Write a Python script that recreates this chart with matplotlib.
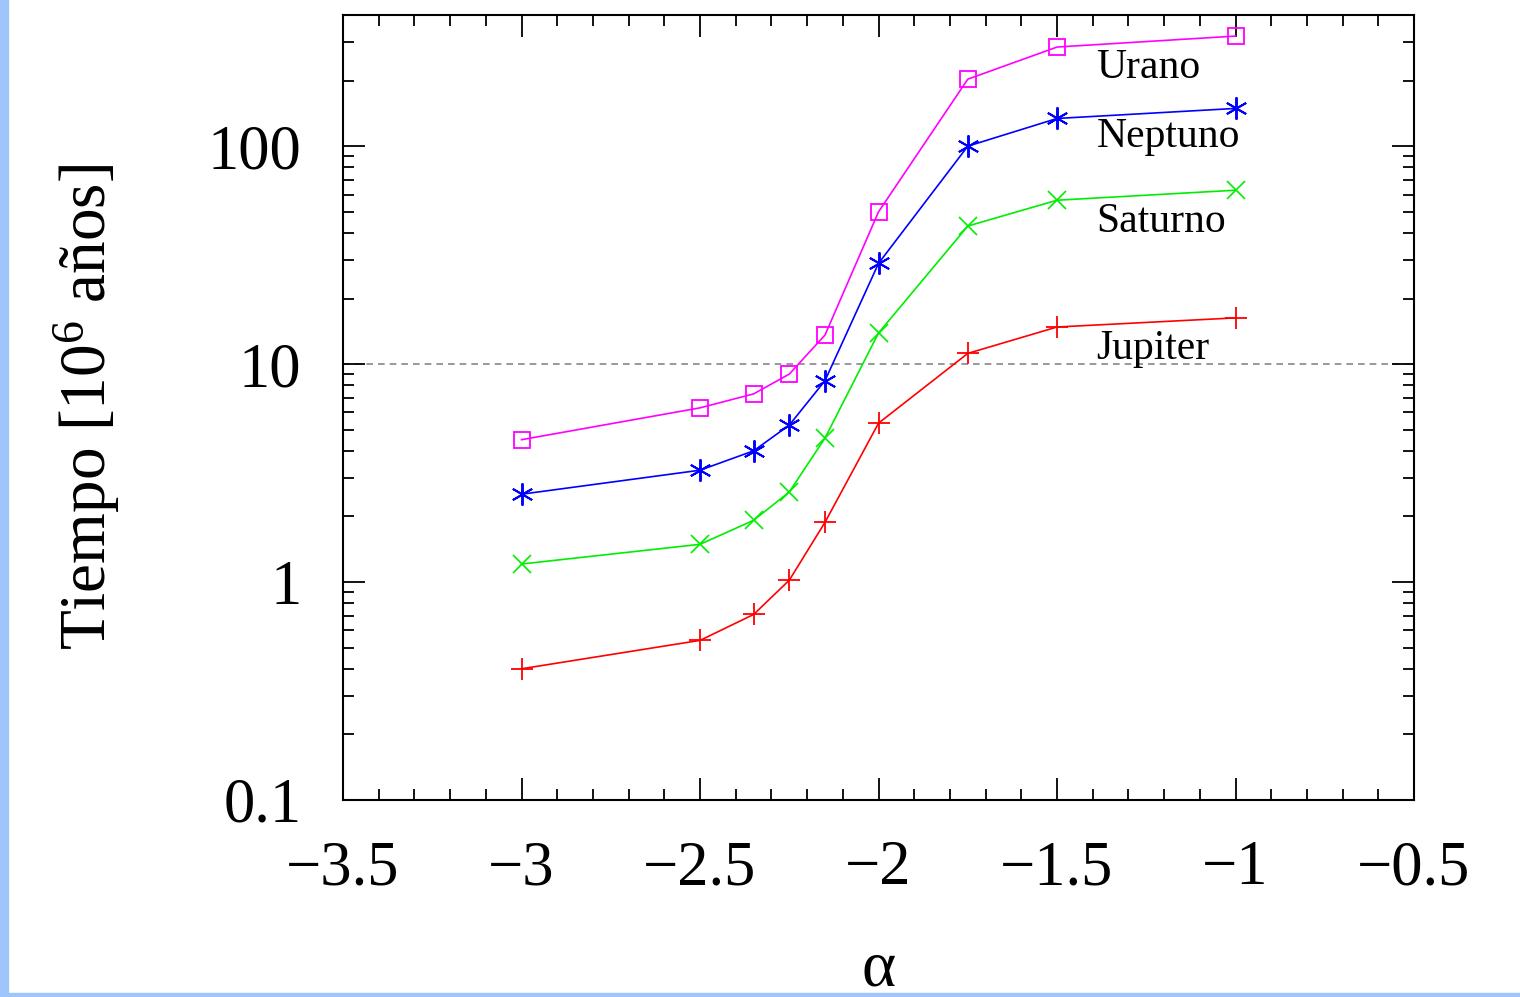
import matplotlib
matplotlib.use("Agg")
import matplotlib.pyplot as plt
from matplotlib.ticker import FixedLocator, FuncFormatter, MultipleLocator, LogLocator, NullFormatter
from matplotlib.patches import Rectangle

plt.rcParams["font.family"] = ["Liberation Serif", "DejaVu Serif"]
plt.rcParams["mathtext.fontset"] = "custom"
plt.rcParams["mathtext.rm"] = "Liberation Serif"
plt.rcParams["mathtext.it"] = "Liberation Serif:italic"

# alpha values and times (10^6 years)
alpha = [-3.0, -2.5, -2.35, -2.25, -2.15, -2.0, -1.75, -1.5, -1.0]
urano = [4.5, 6.3, 7.3, 9.0, 13.6, 50, 203, 285, 320]
neptuno = [2.53, 3.26, 4.0, 5.25, 8.4, 29, 100, 134, 149]
saturno = [1.21, 1.49, 1.92, 2.59, 4.58, 13.9, 43, 56.5, 62.8]
jupiter = [0.40, 0.54, 0.71, 1.02, 1.88, 5.36, 11.2, 14.8, 16.3]

names = ["Urano", "Neptuno", "Saturno", "Jupiter"]
label_y = [230, 110, 45, 11.7]

fig = plt.figure(figsize=(15.2, 9.97), dpi=100)
ax = fig.add_axes([0.2257, 0.1976, 0.7046, 0.7874])

ax.axhline(10, color="#888888", lw=1.2, ls=(0, (4, 3)), zorder=1)

ax.plot(alpha, urano, color="#ff00ff", lw=1.2, marker="s", ms=12, mfc="none", mew=1.3)
ax.plot(alpha, neptuno, color="#0000ff", lw=1.2, marker=(6, 2, 0), ms=16, mew=1.4)
ax.plot(alpha, saturno, color="#00ee00", lw=1.2, marker="x", ms=13, mew=1.2)
ax.plot(alpha, jupiter, color="#ff0000", lw=1.2, marker="+", ms=16, mew=1.3)

for name, y in zip(names, label_y):
    ax.text(-1.39, y, name, fontsize=30, ha="left", va="center")

ax.set_yscale("log")
ax.set_xlim(-3.5, -0.5)
ax.set_ylim(0.1, 400)

ax.xaxis.set_major_locator(MultipleLocator(0.5))
ax.xaxis.set_minor_locator(MultipleLocator(0.1))
ax.yaxis.set_major_locator(FixedLocator([0.1, 1, 10, 100]))
ax.yaxis.set_minor_locator(LogLocator(base=10, subs=range(2, 10)))
ax.yaxis.set_minor_formatter(NullFormatter())
ax.yaxis.set_major_formatter(FuncFormatter(lambda v, p: "%g" % v))
ax.xaxis.set_major_formatter(FuncFormatter(lambda v, p: ("%g" % v).replace("-", "\u2212")))

ax.tick_params(which="both", direction="in", top=True, right=True, width=1.3)
ax.tick_params(which="major", length=16, labelsize=45)
ax.tick_params(axis="y", which="major", pad=30)
ax.tick_params(axis="x", which="major", pad=29)
ax.tick_params(which="minor", length=8)
for s in ax.spines.values():
    s.set_linewidth(1.5)

ax.set_ylabel("Tiempo [$10^6$ años]", fontsize=47, labelpad=62)
ax.set_xlabel("\u03b1", fontsize=47, labelpad=30)

fig.patches.append(Rectangle((0, 0), 8 / 1520, 1, transform=fig.transFigure,
                             color="#9fc6fb", zorder=-1))
fig.patches.append(Rectangle((0, 0), 1, 4 / 997, transform=fig.transFigure,
                             color="#9fc6fb", zorder=-1))

fig.savefig("out.png", dpi=100)
